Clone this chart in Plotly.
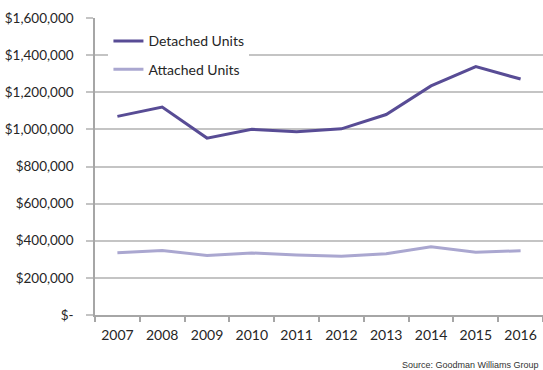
import plotly.graph_objects as go

years = ["2007", "2008", "2009", "2010", "2011", "2012", "2013", "2014", "2015", "2016"]
detached = [1070000, 1120000, 953000, 1000000, 987000, 1003000, 1080000, 1234000, 1338000, 1271000]
attached = [336000, 348000, 321000, 334000, 323000, 316000, 330000, 368000, 338000, 346000]
y_ticks = [0, 200000, 400000, 600000, 800000, 1000000, 1200000, 1400000, 1600000]
y_tick_text = ["$-", "$200,000", "$400,000", "$600,000", "$800,000",
               "$1,000,000", "$1,200,000", "$1,400,000", "$1,600,000"]

FONT = "Lato, 'Open Sans', sans-serif"

fig = go.Figure()
fig.add_trace(go.Scatter(x=years, y=detached, mode="lines", name="Detached Units",
                         legendgroup="d",
                         line=dict(color="#584C95", width=3)))
fig.add_trace(go.Scatter(x=years, y=attached, mode="lines", name="Attached Units",
                         legendgroup="a",
                         line=dict(color="#AAA7D0", width=3)))

fig.update_layout(
    width=543, height=370,
    margin=dict(l=95, r=0, t=18, b=55),
    paper_bgcolor="white", plot_bgcolor="white",
    font=dict(family=FONT, size=13, color="#404040"),
    showlegend=True,
    legend=dict(x=0.03, y=0.975, xanchor="left", yanchor="top",
                bgcolor="white", borderwidth=0,
                font=dict(family=FONT, size=14, color="#262626"),
                tracegroupgap=7, traceorder="grouped",
                itemwidth=30),
    xaxis=dict(type="category", range=[-0.5, 9.5], showgrid=False,
               showline=True, linecolor="#A6A6A6", linewidth=1.5,
               ticks="outside", tickson="boundaries", ticklen=5,
               tickcolor="#A6A6A6", tickwidth=1.5,
               ticklabelstandoff=6,
               tickfont=dict(family=FONT, size=14, color="#262626")),
    yaxis=dict(range=[0, 1600000], tickvals=y_ticks, ticktext=y_tick_text,
               showgrid=True, gridcolor="#C4C4C4", gridwidth=1.5,
               showline=True, linecolor="#A6A6A6", linewidth=1.5,
               ticks="outside", ticklen=7, tickcolor="#C4C4C4", tickwidth=1.5,
               ticklabelstandoff=10, zeroline=False,
               tickfont=dict(family=FONT, size=13.5, color="#262626")),
    annotations=[dict(text="Source: Goodman Williams Group", xref="paper", yref="paper",
                      x=(541 - 95) / 448, y=(315 - 365) / 297,
                      xanchor="right", yanchor="middle", showarrow=False,
                      font=dict(family="Liberation Sans, Arial", size=9, color="#333333"))],
)

fig.write_html("out.html")
